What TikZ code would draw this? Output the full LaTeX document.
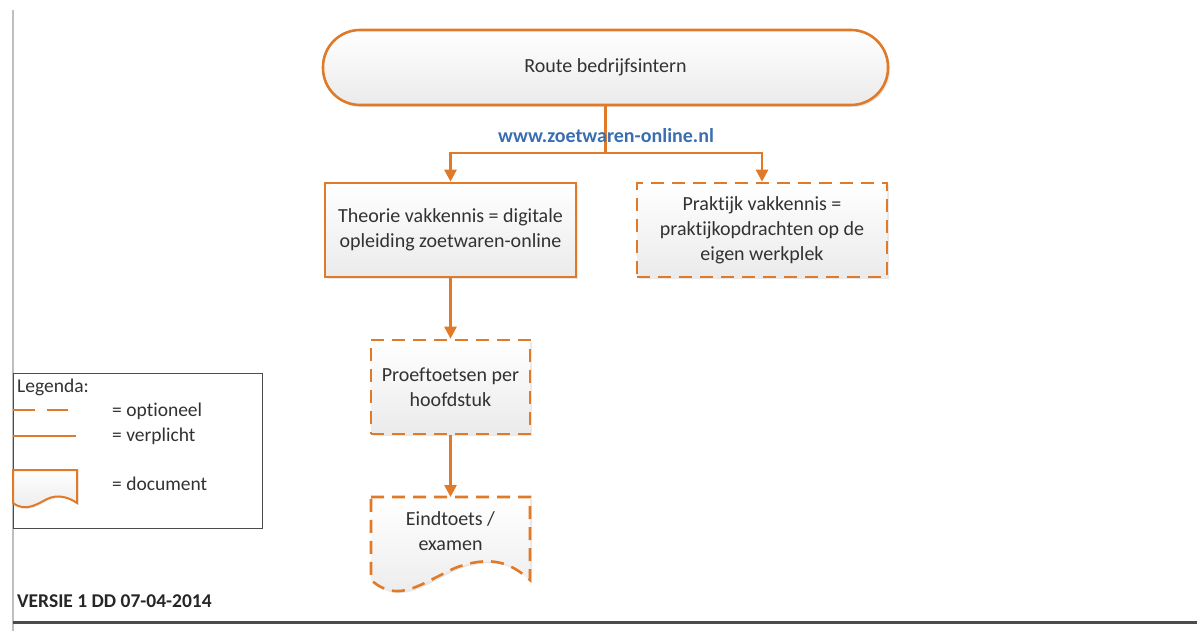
\documentclass[tikz,border=0pt]{standalone}
\usepackage{fontspec}
\setmainfont{Carlito}[Ligatures={NoCommon}]
\usetikzlibrary{arrows.meta,shadows}
\definecolor{org}{RGB}{224,122,40}
\definecolor{txt}{RGB}{50,50,50}
\definecolor{urlblue}{RGB}{58,110,176}
\tikzset{
  box/.style={draw=org, line width=2.6pt, top color=white, bottom color=black!8,
    drop shadow={opacity=0.18, shadow xshift=2pt, shadow yshift=-2pt},
    text=txt, align=center, font=\fontsize{20}{25}\selectfont, inner sep=0pt},
  opt/.style={dash pattern=on 13pt off 8pt},
  conn/.style={draw=org, line width=2.6pt},
  arr/.style={conn, -{Triangle[width=12pt,length=12pt]}},
  legtext/.style={anchor=west, text=txt, font=\fontsize{19.5}{22}\selectfont, inner sep=0pt},
}
\begin{document}
\begin{tikzpicture}[x=1pt,y=-1pt]
\useasboundingbox (0,0) rectangle (1197,631);
% page frame lines
\draw[black!25, line width=1.2pt] (13,10) -- (13,631);
\draw[black!70, line width=3pt] (13,622.5) -- (1197,622.5);
% terminator
\node[box, rounded corners=37pt, minimum width=565pt, minimum height=75pt] (term) at (605.5,67.5) {Route bedrijfsintern};
% boxes
\node[box, minimum width=251pt, minimum height=94pt] (b1) at (450.5,230) {Theorie vakkennis = digitale\\opleiding zoetwaren-online};
\node[box, opt, minimum width=250pt, minimum height=94pt] (b2) at (762,230) {Praktijk vakkennis =\\praktijkopdrachten op de\\eigen werkplek};
\node[box, opt, minimum width=159pt, minimum height=94pt] (b3) at (450.5,387) {Proeftoetsen per\\hoofdstuk};
% document shape
\coordinate (dtl) at (371,497);
\coordinate (dtr) at (530,497);
\path[box, opt] (dtl) -- (dtr) -- (530,580)
  .. controls (510,562) and (490,555) .. (455,568)
  .. controls (420,584) and (398,604) .. (371,580) -- cycle;
\node[text=txt, align=center, font=\fontsize{20}{25}\selectfont] (doc) at (450.5,531) {Eindtoets /\\examen};
\coordinate (dtop) at (450.5,497);
% connectors
\coordinate (split) at (605.5,153);
\draw[conn] (term.south) -- (split);
\draw[arr] (split) -| (b1.north);
\draw[arr] (split) -| (b2.north);
\draw[arr] (b1.south) -- (b3.north);
\draw[arr] (b3.south) -- (dtop);
\node[font=\fontsize{20}{22}\selectfont\bfseries, text=urlblue, inner sep=0pt] (url) at (606,136) {www.zoetwaren-online.nl};
% legend
\node[draw=black!70, line width=1pt, minimum width=249pt, minimum height=155pt, inner sep=0pt] (leg) at (137.5,450.5) {};
\node[legtext] (legt) at (17,387) {Legenda:};
\coordinate (l1a) at (13,410);
\coordinate (l1b) at (68,410);
\draw[draw=org, line width=2pt, dash pattern=on 22pt off 12pt] (l1a) -- (l1b);
\coordinate (l2a) at (13,436);
\coordinate (l2b) at (76,436);
\draw[draw=org, line width=2pt] (l2a) -- (l2b);
\path[draw=org, line width=2pt, top color=white, bottom color=black!8,
  drop shadow={opacity=0.18, shadow xshift=1.5pt, shadow yshift=-1.5pt}]
  (13,470) -- (77,470) -- (77,503)
  .. controls (68,497) and (58,494) .. (47,499)
  .. controls (36,505) and (25,512) .. (13,503) -- cycle;
\node[legtext] (lo) at (112,411) {= optioneel};
\node[legtext] (lv) at (112,436) {= verplicht};
\node[legtext] (ld) at (112,484) {= document};
% version
\node[anchor=west, text=black!85, font=\fontsize{19.5}{22}\selectfont\bfseries, inner sep=0pt] (ver) at (17,601) {VERSIE 1 DD 07-04-2014};
\end{tikzpicture}
\end{document}
